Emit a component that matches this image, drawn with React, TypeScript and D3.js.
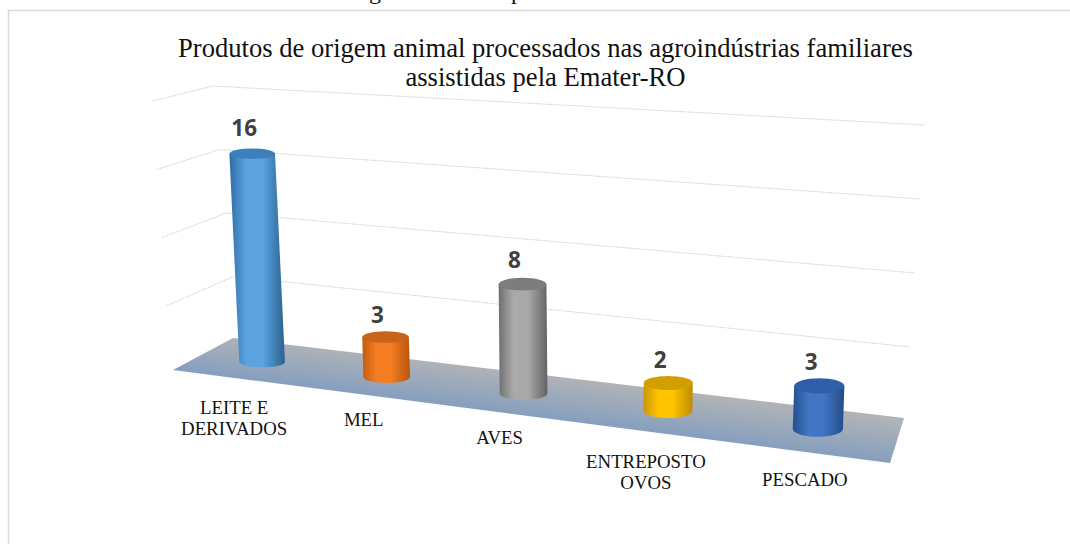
import React from "react";
import * as d3 from "d3";

const categories = [["LEITE E", "DERIVADOS"], ["MEL"], ["AVES"], ["ENTREPOSTO", "OVOS"], ["PESCADO"]];
const values = [16, 3, 8, 2, 3];
const sideColors = [
  ["#2f6da8", "#5ba3e0", "#2a618f"],
  ["#c25c12", "#f47d22", "#b9560f"],
  ["#6f6f6f", "#a9a9a9", "#636363"],
  ["#c99700", "#ffc300", "#bd8e00"],
  ["#24508f", "#4274c4", "#234c88"],
];
const topColors = ["#3d7fbc", "#c8641a", "#7d7d7d", "#d29f00", "#2f5ea8"];
const gridValues = [5, 10, 15, 20];
const titleLines = [
  "Produtos de origem animal processados nas agroindústrias familiares",
  "assistidas pela Emater-RO",
];

const W = 1070;
const H = 544;
const SERIF = "'Liberation Serif', serif";

// floor placement
const along = d3.scalePow().exponent(1.13).domain([0, 1]).range([0, 1]);
const floorX = d3.scaleLinear().domain([0, 1]).range([211.5, 894.5]);
const floorY = d3.scaleLinear().domain([0, 1]).range([356, 438.3]);
const band = d3.scaleBand().domain(d3.range(values.length).map(String)).range([0, 1]);
const unitPx = d3.scaleLinear().domain([0, 1]).range([12.9, 14.6]);
const halfWidth = d3.scaleLinear().domain([0, 1]).range([22.6, 25.4]);
const lean = d3.scaleLinear().domain([0, 1]).range([-0.055, 0.045]);
const capRy = d3.scaleLinear().domain([0, 1]).range([5, 8]);

// walls
const gLeftY = d3.scaleLinear().domain([0, 20]).range([374, 101]);
const gCornerY = d3.scaleLinear().domain([0, 20]).range([340, 86]);
const gRightY = d3.scaleLinear().domain([0, 20]).range([421, 125]);
const gLeftX = d3.scaleLinear().domain([0, 20]).range([171, 153]);
const gCornerX = d3.scaleLinear().domain([0, 20]).range([240, 213]);
const gRightX = d3.scaleLinear().domain([0, 20]).range([905, 925]);
const gridLine = d3.line();

const floorPath = gridLine([[233, 338], [173, 370], [890, 463], [904, 418]]) + "Z";

// per-label placement relative to the bar's foot
const labelDx = [-28, -23, -24, -22, -13];
const labelDy = [52, 49, 50, 57, 57];

export default function App() {
  return (
    <svg
      width={W}
      height={H}
      viewBox={`0 0 ${W} ${H}`}
      style={{ position: "absolute", left: 0, top: 0, background: "#fff" }}
    >
      <defs>
        <filter id="soft" x="-20%" y="-20%" width="140%" height="140%">
          <feGaussianBlur stdDeviation="0.7" />
        </filter>
        <linearGradient id="floorGrad" gradientUnits="userSpaceOnUse" x1="568" y1="378" x2="562" y2="424">
          <stop offset="0" stopColor="#b0b3b7" />
          <stop offset="1" stopColor="#829dbf" />
        </linearGradient>
        {sideColors.map((c, i) => (
          <linearGradient key={i} id={`side${i}`} x1="0" x2="1" y1="0" y2="0">
            <stop offset="0" stopColor={c[0]} />
            <stop offset="0.3" stopColor={c[1]} />
            <stop offset="0.6" stopColor={c[1]} />
            <stop offset="1" stopColor={c[2]} />
          </linearGradient>
        ))}
      </defs>

      <text x={375} y={-1} fontFamily={SERIF} fontSize={24} textAnchor="middle" fill="#111">g</text>
      <text x={517} y={-1} fontFamily={SERIF} fontSize={24} textAnchor="middle" fill="#111">p</text>

      <path d={`M${W},10.5H8.5V${H}`} fill="none" stroke="#d9d9d9" strokeWidth={1.5} />

      {titleLines.map((t, i) => (
        <text key={i} x={545.5} y={56.7 + i * 29.5} textAnchor="middle" fontFamily={SERIF} fontSize={26.6} fill="#111">
          {t}
        </text>
      ))}

      {gridValues.map((v) => (
        <path
          key={v}
          d={gridLine([
            [gLeftX(v), gLeftY(v)],
            [gCornerX(v), gCornerY(v)],
            [gRightX(v), gRightY(v)],
          ]) as string}
          fill="none"
          stroke="#cdcdcd"
          strokeWidth={1}
          strokeDasharray="1.5 1"
        />
      ))}

      <path d={floorPath} fill="url(#floorGrad)" filter="url(#soft)" />

      {values.map((v, i) => {
        const t = along((band(String(i)) as number) + band.bandwidth() / 2);
        const bx = floorX(t);
        const by = floorY(t);
        const h = v * unitPx(t);
        const hw = halfWidth(t);
        const tx = bx + lean(t) * h;
        const ty = by - h;
        const ry = capRy(t);
        const side = `M${tx - hw},${ty}L${bx - hw},${by}A${hw},${ry} 0 0 0 ${bx + hw},${by}L${tx + hw},${ty}Z`;
        return (
          <g key={i}>
            <g filter="url(#soft)">
              <path d={side} fill={`url(#side${i})`} />
              <ellipse cx={tx} cy={ty} rx={hw} ry={ry} fill={topColors[i]} />
            </g>
            <text
              x={tx - 8}
              y={ty - ry - 7 - 0.37 * v}
              textAnchor="middle"
              fontFamily="'Open Sans', sans-serif"
              fontWeight={700}
              fontSize={22.5}
              fill="#404040"
            >
              {v}
            </text>
            <text textAnchor="middle" fontFamily={SERIF} fontSize={18.8} fill="#111">
              {categories[i].map((line, j) => (
                <tspan key={j} x={bx + labelDx[i]} y={by + labelDy[i] + j * 21}>
                  {line}
                </tspan>
              ))}
            </text>
          </g>
        );
      })}
    </svg>
  );
}
